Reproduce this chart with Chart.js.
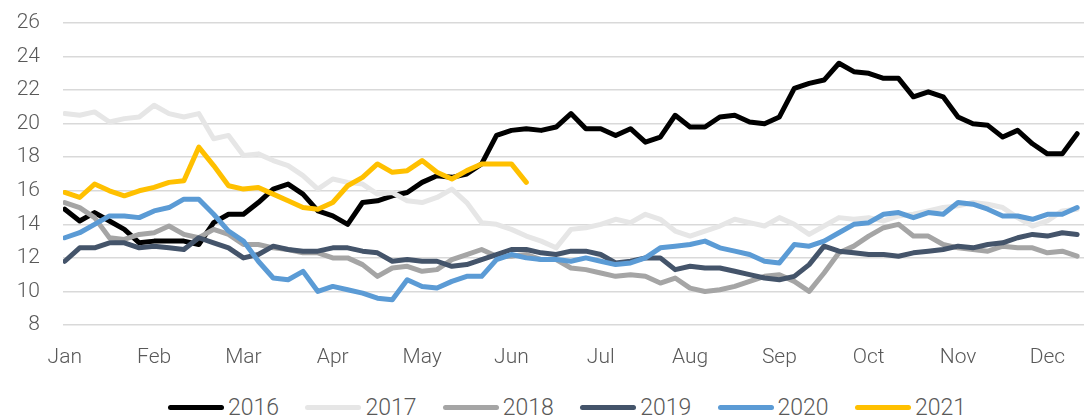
<!DOCTYPE html>
<html>
<head>
<meta charset="utf-8">
<script src="https://cdn.jsdelivr.net/npm/chart.js@4/dist/chart.umd.min.js"></script>
<style>
    body { margin: 0; background: #fff; }
    #wrap { position: relative; width: 1084px; height: 419px; overflow: hidden; }
    #box { position: absolute; left: 0; top: 0; width: 1084px; height: 380px; }
    #legend { position: absolute; left: 168px; top: 394px; display: flex; font-family: Roboto, sans-serif; font-weight: 300; font-size: 23px; color: #595959; }
    .item { width: 137.4px; display: flex; align-items: center; }
    .swatch { width: 56px; height: 5px; border-radius: 3px; margin-right: 4px; }
</style>
</head>
<body>
<div id="wrap">
    <div id="box"><canvas id="chart" width="1084" height="380"></canvas></div>
    <div id="legend"></div>
</div>
<script>
// month labels on the x axis, data sampled every 1/6 of a month
const months = ['Jan', 'Feb', 'Mar', 'Apr', 'May', 'Jun', 'Jul', 'Aug', 'Sep', 'Oct', 'Nov', 'Dec'];
const step = 1 / 6;
const years = ['2016', '2017', '2018', '2019', '2020', '2021'];

const s2016 = [14.9, 14.2, 14.7, 14.2, 13.7, 12.9, 13.0, 13.0, 13.0, 12.8,
    14.1, 14.6, 14.6, 15.3, 16.1, 16.4, 15.8, 14.8, 14.5, 14.0,
    15.3, 15.4, 15.7, 15.9, 16.5, 16.9, 16.8, 17.0, 17.6, 19.3,
    19.6, 19.7, 19.6, 19.8, 20.6, 19.7, 19.7, 19.3, 19.7, 18.9,
    19.2, 20.5, 19.8, 19.8, 20.4, 20.5, 20.1, 20.0, 20.4, 22.1,
    22.4, 22.6, 23.6, 23.1, 23.0, 22.7, 22.7, 21.6, 21.9, 21.6,
    20.4, 20.0, 19.9, 19.2, 19.6, 18.8, 18.2, 18.2, 19.4];
const s2017 = [20.6, 20.5, 20.7, 20.1, 20.3, 20.4, 21.1, 20.6, 20.4, 20.6,
    19.1, 19.3, 18.1, 18.2, 17.8, 17.5, 16.9, 16.1, 16.7, 16.5,
    16.4, 15.8, 15.9, 15.4, 15.3, 15.6, 16.1, 15.3, 14.1, 14.0,
    13.7, 13.3, 13.0, 12.6, 13.7, 13.8, 14.0, 14.3, 14.1, 14.6,
    14.3, 13.6, 13.3, 13.6, 13.9, 14.3, 14.1, 13.9, 14.4, 14.0,
    13.4, 13.9, 14.4, 14.3, 14.4, 14.2, 14.5, 14.6, 14.8, 15.0,
    15.1, 15.3, 15.2, 15.0, 14.4, 13.9, 14.2, 14.8, 14.9];
const s2018 = [15.3, 15.0, 14.4, 13.2, 13.1, 13.4, 13.5, 13.9, 13.4, 13.2,
    13.7, 13.4, 12.8, 12.8, 12.6, 12.5, 12.3, 12.3, 12.0, 12.0,
    11.6, 10.9, 11.4, 11.5, 11.2, 11.3, 11.9, 12.2, 12.5, 12.1,
    12.1, 12.2, 11.9, 11.9, 11.4, 11.3, 11.1, 10.9, 11.0, 10.9,
    10.5, 10.8, 10.2, 10.0, 10.1, 10.3, 10.6, 10.9, 11.0, 10.6,
    10.0, 11.1, 12.3, 12.7, 13.3, 13.8, 14.0, 13.3, 13.3, 12.8,
    12.6, 12.5, 12.4, 12.7, 12.6, 12.6, 12.3, 12.4, 12.1];
const s2019 = [11.8, 12.6, 12.6, 12.9, 12.9, 12.6, 12.7, 12.6, 12.5, 13.2,
    12.9, 12.6, 12.0, 12.2, 12.7, 12.5, 12.4, 12.4, 12.6, 12.6,
    12.4, 12.3, 11.8, 11.9, 11.8, 11.8, 11.5, 11.6, 11.9, 12.2,
    12.5, 12.5, 12.3, 12.2, 12.4, 12.4, 12.2, 11.7, 11.8, 12.0,
    12.0, 11.3, 11.5, 11.4, 11.4, 11.2, 11.0, 10.8, 10.7, 10.9,
    11.6, 12.7, 12.4, 12.3, 12.2, 12.2, 12.1, 12.3, 12.4, 12.5,
    12.7, 12.6, 12.8, 12.9, 13.2, 13.4, 13.3, 13.5, 13.4];
const s2020 = [13.2, 13.5, 14.0, 14.5, 14.5, 14.4, 14.8, 15.0, 15.5, 15.5,
    14.6, 13.6, 13.0, 11.8, 10.8, 10.7, 11.2, 10.0, 10.3, 10.1,
    9.9, 9.6, 9.5, 10.7, 10.3, 10.2, 10.6, 10.9, 10.9, 11.9,
    12.2, 12.0, 11.9, 11.9, 11.8, 12.0, 11.8, 11.6, 11.7, 12.0,
    12.6, 12.7, 12.8, 13.0, 12.6, 12.4, 12.2, 11.8, 11.7, 12.8,
    12.7, 13.0, 13.5, 14.0, 14.1, 14.6, 14.7, 14.4, 14.7, 14.6,
    15.3, 15.2, 14.9, 14.5, 14.5, 14.3, 14.6, 14.6, 15.0];
const s2021 = [15.9, 15.6, 16.4, 16.0, 15.7, 16.0, 16.2, 16.5, 16.6, 18.6,
    17.5, 16.3, 16.1, 16.2, 15.8, 15.4, 15.0, 14.9, 15.3, 16.3,
    16.8, 17.6, 17.1, 17.2, 17.8, 17.1, 16.7, 17.2, 17.6, 17.6,
    17.6, 16.5];
const yTicks = [8, 10, 12, 14, 16, 18, 20, 22, 24, 26];

const seriesList = [s2016, s2017, s2018, s2019, s2020, s2021];
const lineColors = ['#000000', '#e6e6e6', '#a5a5a5', '#44546a', '#5b9bd5', '#ffc000'];
const axisFont = { family: 'Roboto', size: 21, weight: '300' };
const axisColor = '#595959';

function toPoints(arr) {
    return arr.map((v, i) => ({ x: i * step, y: v }));
}

let datasets = [];
for (let i = 0; i < years.length; i++) {
    datasets.push({
        label: years[i],
        data: toPoints(seriesList[i]),
        borderColor: lineColors[i],
        backgroundColor: lineColors[i],
        borderWidth: 5,
        pointRadius: 0,
        tension: 0,
        borderJoinStyle: 'round',
        borderCapStyle: 'round',
        order: years.length - i // later years on top, like the original
    });
}

new Chart(document.getElementById('chart').getContext('2d'), {
    type: 'line',
    data: { datasets: datasets },
    options: {
        responsive: false,
        animation: false,
        devicePixelRatio: 1,
        layout: { padding: { top: 23, bottom: 0, left: 0, right: 0 } },
        plugins: {
            legend: { display: false },
            tooltip: { enabled: false }
        },
        scales: {
            x: {
                type: 'linear',
                min: -0.02,
                max: 11.41,
                grid: { display: false },
                border: { display: false },
                afterBuildTicks: (axis) => {
                    axis.ticks = months.map((m, i) => ({ value: i }));
                },
                afterFit: (scale) => { scale.height = 55; },
                ticks: {
                    autoSkip: false,
                    maxRotation: 0,
                    padding: 12,
                    color: axisColor,
                    font: axisFont,
                    callback: (v) => months[v]
                }
            },
            y: {
                min: 8,
                max: 26,
                afterBuildTicks: (axis) => {
                    axis.ticks = yTicks.map(v => ({ value: v }));
                },
                afterFit: (scale) => {
                    scale.width = 63;
                    scale.paddingTop = 0;
                    scale.paddingBottom = 0;
                },
                grid: { color: '#d9d9d9', lineWidth: 1.5, drawTicks: false },
                border: { display: false },
                ticks: { padding: 23, color: axisColor, font: axisFont }
            }
        }
    }
});

// html legend
let legendHtml = '';
for (let i = 0; i < years.length; i++) {
    legendHtml += `<div class="item"><span class="swatch" style="background:${lineColors[i]}"></span><span>${years[i]}</span></div>`;
}
document.getElementById('legend').innerHTML = legendHtml;
</script>
</body>
</html>
